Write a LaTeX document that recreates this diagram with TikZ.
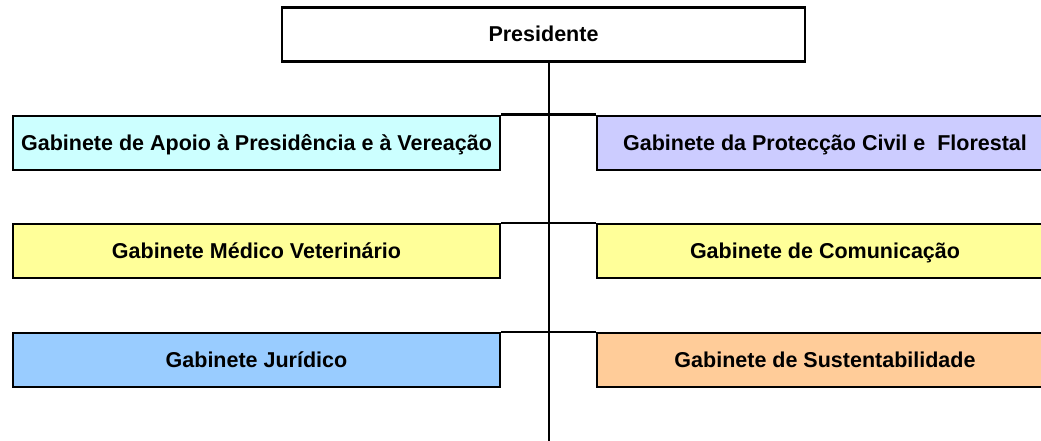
\documentclass[tikz,border=0pt]{standalone}
\usepackage{fontspec}
\setmainfont{Liberation Sans}
\usepackage{tikz}
\usetikzlibrary{positioning}

\definecolor{ciano}{HTML}{CCFFFF}
\definecolor{lilas}{HTML}{CCCCFF}
\definecolor{amarelo}{HTML}{FFFF99}
\definecolor{azul}{HTML}{99CCFF}
\definecolor{laranja}{HTML}{FFCC99}

\begin{document}
\begin{tikzpicture}[x=1pt, y=-1pt, line width=2.5pt,
		gab/.style={rectangle,draw=black,minimum height=54pt,inner sep=0pt,
			text height=17pt,text depth=2pt,
			font=\fontsize{21.5}{25}\selectfont\bfseries},
		esq/.style={gab,minimum width=487pt},
		dir/.style={gab,minimum width=456pt}]
		\useasboundingbox (0, 0) rectangle (1041, 441);
		\node[gab,minimum width=523pt,fill=white] (pres) at (543.5, 34.5) {Presidente};
		% linha vertical
		\coordinate (fim) at (549, 441);
		\draw (pres.south -| fim) -- (fim);
		% gabinetes
		\node[esq,fill=ciano] (apoio) at (256.5, 143) {Gabinete de Apoio à Presidência e à Vereação};
		\node[dir,fill=lilas] (civil) at (825, 143) {Gabinete da Protecção Civil e\ \ Florestal};
		\node[esq,fill=amarelo] (medico) at (256.5, 251) {Gabinete Médico Veterinário};
		\node[dir,fill=amarelo] (comunic) at (825, 251) {Gabinete de Comunicação};
		\node[esq,fill=azul] (juridico) at (256.5, 360) {Gabinete Jurídico};
		\node[dir,fill=laranja] (sustent) at (825, 360) {Gabinete de Sustentabilidade};
		% ligacoes
		\draw (apoio.north east) -- (civil.north west);
		\draw (medico.north east) -- (comunic.north west);
		\draw (juridico.north east) -- (sustent.north west);
	\end{tikzpicture}
\end{document}
